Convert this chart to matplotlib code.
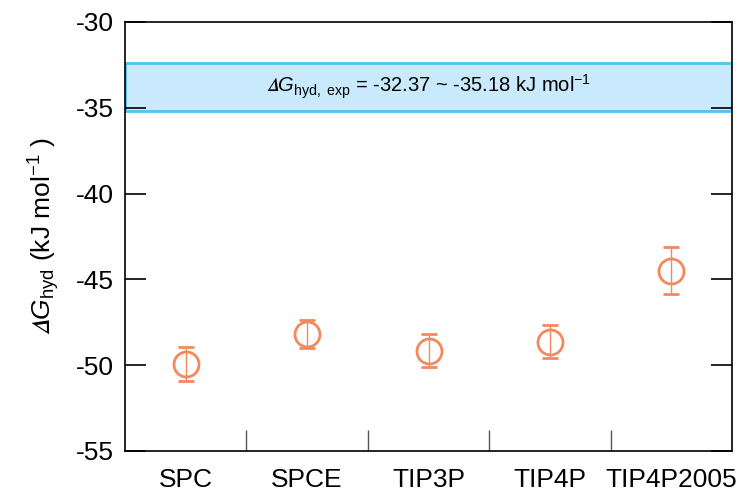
import numpy as np
import matplotlib
matplotlib.use('Agg')
import matplotlib.pyplot as plt

plt.rcParams['font.family'] = ['Liberation Sans', 'DejaVu Sans']
plt.rcParams['mathtext.fontset'] = 'custom'
plt.rcParams['mathtext.rm'] = 'Liberation Sans'
plt.rcParams['mathtext.it'] = 'Liberation Sans:italic'
plt.rcParams['mathtext.fallback'] = 'stixsans'
plt.rcParams['axes.unicode_minus'] = False

# 물 모델별 수화 자유에너지
models = ['SPC', 'SPCE', 'TIP3P', 'TIP4P', 'TIP4P2005']
dg = [-49.95, -48.17, -49.15, -48.63, -44.49]
err = [1.0, 0.8, 0.95, 0.97, 1.37]

# 실험값 범위
exp_hi = -32.37
exp_lo = -35.18

x = np.arange(1, len(models) + 1)
color = '#f4895f'

fig = plt.figure(figsize=(7.5, 4.95), dpi=100)
ax = fig.add_axes([0.1667, 0.0889, 0.8093, 0.8667])

ax.axhspan(exp_lo, exp_hi, facecolor='#c8eafc', edgecolor='#4fc3f7', lw=2, zorder=1)
ax.text(np.mean([0.5, len(models) + 0.5]), (exp_hi + exp_lo) / 2,
        '$\U0001D6E5\\mathit{G}_{\\mathrm{hyd,\\ exp}}$ = -32.37 ~ -35.18 kJ mol$^{\\mathrm{-1}}$',
        ha='center', va='center', fontsize=14.5, zorder=3)

ax.errorbar(x, dg, yerr=err, fmt='o', ms=18, mfc='none', mec=color, mew=2,
            ecolor=color, elinewidth=1, capsize=6, capthick=1, zorder=4)

ax.set_xlim(0.5, len(models) + 0.5)
ax.set_ylim(-55, -30)
ax.set_yticks(np.arange(-55, -29, 5))
ax.set_xticks(x)
ax.set_xticklabels(models)
ax.set_xticks(x[:-1] + 0.5, minor=True)
ax.tick_params(axis='x', which='major', length=0, pad=12, labelsize=19)
ax.tick_params(axis='x', which='minor', direction='in', length=15, width=1, color='#555555', top=False)
ax.tick_params(axis='y', direction='in', length=15, width=1.2, right=True, labelsize=19, pad=8)

for s in ax.spines.values():
    s.set_linewidth(1.2)

ax.set_ylabel('$\U0001D6E5\\mathit{G}_{\\mathrm{hyd}}$ (kJ mol$^{\\mathrm{-1}}$ )', fontsize=19, labelpad=10)

plt.savefig('out.png', dpi=100)
